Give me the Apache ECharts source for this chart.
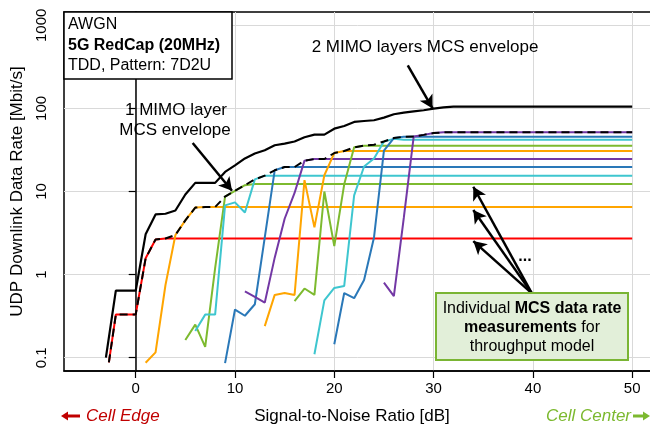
<!DOCTYPE html>
<html>
<head>
<meta charset="utf-8">
<script src="https://cdn.jsdelivr.net/npm/echarts@6/dist/echarts.min.js"></script>
<style>
html, body { margin: 0; padding: 0; background: #fff; }
#chart { width: 650px; height: 430px; }
</style>
</head>
<body>
<div id="chart"></div>
<script>
// axis ticks
const snrTicks = [0, 10, 20, 30, 40, 50];
const rateTicks = [0.1, 1, 10, 100, 1000];

// 2 MIMO layers envelope
const env2Snr = [-3, -2, -1, 0, 1, 2, 3, 4, 5, 6, 7, 8, 9, 10, 11, 12, 13, 14, 15, 16, 17, 18, 19, 20, 21, 22, 23, 24, 25, 26, 27, 28, 29, 30, 31, 32, 50];
const env2Rate = [0.1, 0.64, 0.64, 0.64, 3.05, 5.3, 5.4, 5.9, 9.2, 12.7, 12.7, 12.7, 17.2, 20.6, 25, 28.6, 31.4, 36, 37.7, 40, 45, 48.4, 48.4, 57, 61.4, 68.7, 70.5, 72, 77.5, 85, 89, 92, 95, 99.4, 103, 105, 105];

// 1 MIMO layer envelope
const env1Snr = [-2.7, -2, -1, 0, 1, 2, 3, 4, 5, 6, 7, 8, 9, 10, 11, 12, 13, 14, 15, 16, 17, 18, 19, 20, 21, 22, 23, 24, 25, 26, 27, 28, 29, 30, 31, 50];
const env1Rate = [0.088, 0.33, 0.33, 0.33, 1.57, 2.65, 2.72, 3.0, 4.5, 6.4, 6.5, 6.5, 8.7, 10.2, 11.9, 14.0, 15.5, 18, 19.7, 19.7, 23.5, 24.6, 24.6, 29, 30.7, 34, 35.6, 36.5, 40, 44, 45.6, 46, 48, 50.5, 51.5, 51.5];

// individual MCS measurements
const mcs1Snr = [-2.7, -2, -1, 0, 1, 2, 3, 50];
const mcs1Rate = [0.088, 0.33, 0.33, 0.33, 1.57, 2.65, 2.72, 2.72];
const mcs2Snr = [1, 2, 3, 4, 5, 6, 7, 50];
const mcs2Rate = [0.087, 0.116, 0.75, 3.0, 4.5, 6.4, 6.5, 6.5];
const mcs3Snr = [5, 6, 7, 8, 9, 10, 11, 12, 50];
const mcs3Rate = [0.163, 0.25, 0.135, 1.2, 8.7, 10.2, 11.9, 12.3, 12.3];
const mcs4Snr = [6, 7, 8, 9, 10, 11, 12, 13, 50];
const mcs4Rate = [0.21, 0.33, 0.33, 6.8, 7.4, 5.6, 14.0, 15.5, 15.5];
const mcs5Snr = [9, 10, 11, 12, 13, 14, 15, 50];
const mcs5Rate = [0.086, 0.38, 0.32, 0.44, 2.8, 18, 19.7, 19.7];
const mcs6Snr = [11, 12, 13, 14, 15, 16, 17, 18, 50];
const mcs6Rate = [0.63, 0.54, 0.46, 1.6, 4.7, 9.6, 23.5, 24.6, 24.6];
const mcs7Snr = [13, 14, 15, 16, 17, 18, 19, 20, 21, 50];
const mcs7Rate = [0.24, 0.57, 0.60, 0.57, 13.7, 3.7, 15.7, 29, 30.7, 30.7];
const mcs8Snr = [16, 17, 18, 19, 20, 21, 22, 23, 50];
const mcs8Rate = [0.48, 0.68, 0.57, 10, 2.2, 12.2, 34, 35.6, 35.6];
const mcs9Snr = [18, 19, 20, 21, 22, 23, 24, 25, 26, 27, 50];
const mcs9Rate = [0.11, 0.49, 0.69, 0.73, 9, 20, 25, 40, 43, 42, 42];
const mcs10Snr = [20, 21, 22, 23, 24, 25, 26, 27, 50];
const mcs10Rate = [0.145, 0.6, 0.52, 0.86, 2.8, 31, 44, 45.6, 45.6];
const mcs11Snr = [25, 26, 27, 28, 29, 30, 31, 50];
const mcs11Rate = [0.8, 0.55, 4.8, 46, 48, 50.5, 51.5, 51.5];

const RED = '#ff0000', ORANGE = '#ffa500', GREEN = '#7dba2f', CYAN = '#3ec6cf', BLUE = '#2a78b8', PURPLE = '#7338a5';

function zip(xs, ys) {
  return xs.map(function (x, i) { return [x, ys[i]]; });
}

function mcsLine(xs, ys, color) {
  return {
    type: 'line', data: zip(xs, ys), symbol: 'none', silent: true,
    lineStyle: { color: color, width: 2 }, itemStyle: { color: color }
  };
}

const FONT = '"Liberation Sans", Arial, sans-serif';
let chart = echarts.init(document.getElementById('chart'), null, { renderer: 'canvas' });

chart.setOption({
  animation: false,
  backgroundColor: '#fff',
  grid: { left: 64, right: -7, top: 12, bottom: 59, show: true, borderColor: '#000', borderWidth: 1.5, outerBoundsMode: 'none' },
  xAxis: {
    type: 'value', min: -7.22, max: 52.5,
    axisLine: { lineStyle: { color: '#000', width: 1.5 } },
    axisTick: { customValues: snrTicks, length: 7, lineStyle: { color: '#000', width: 1.2 } },
    axisLabel: { customValues: snrTicks, color: '#000', fontSize: 15, fontFamily: FONT, margin: 10 },
    splitLine: { show: true, lineStyle: { color: '#d9d9d9', width: 1 } }
  },
  yAxis: {
    type: 'log', min: 0.0692, max: 1445, logBase: 10,
    name: 'UDP Downlink Data Rate [Mbit/s]', nameLocation: 'middle', nameGap: 38,
    nameTextStyle: { color: '#000', fontSize: 17, fontFamily: FONT },
    axisLine: { lineStyle: { color: '#000', width: 1.5 } },
    axisTick: { customValues: rateTicks, length: 7, lineStyle: { color: '#000', width: 1.2 } },
    axisLabel: {
      customValues: rateTicks, rotate: 90, color: '#000', fontSize: 15, fontFamily: FONT, margin: 15,
      formatter: function (v) { return String(v); }
    },
    splitLine: { show: true, lineStyle: { color: '#d9d9d9', width: 1 } }
  },
  series: [
    mcsLine(mcs1Snr, mcs1Rate, RED),
    mcsLine(mcs2Snr, mcs2Rate, ORANGE),
    mcsLine(mcs3Snr, mcs3Rate, GREEN),
    mcsLine(mcs4Snr, mcs4Rate, CYAN),
    mcsLine(mcs5Snr, mcs5Rate, BLUE),
    mcsLine(mcs6Snr, mcs6Rate, PURPLE),
    mcsLine(mcs7Snr, mcs7Rate, ORANGE),
    mcsLine(mcs8Snr, mcs8Rate, GREEN),
    mcsLine(mcs9Snr, mcs9Rate, CYAN),
    mcsLine(mcs10Snr, mcs10Rate, BLUE),
    mcsLine(mcs11Snr, mcs11Rate, PURPLE),
    {
      type: 'line', data: zip(env1Snr, env1Rate), symbol: 'none', silent: true,
      lineStyle: { color: '#000', width: 2, type: [8, 5] }
    },
    {
      type: 'line', data: zip(env2Snr, env2Rate), symbol: 'none', silent: true,
      lineStyle: { color: '#000', width: 2.2 },
      markLine: {
        silent: true, symbol: ['none', 'arrow'], symbolSize: [11, 13],
        label: { show: false },
        lineStyle: { color: '#000', width: 2.5, type: 'solid' },
        data: [
          [{ coord: [27.4, 330] }, { coord: [29.9, 100] }],
          [{ coord: [5.74, 38.4] }, { coord: [9.7, 10.2] }],
          [{ coord: [39.9, 0.595] }, { coord: [34.0, 11.4] }],
          [{ coord: [39.9, 0.595] }, { coord: [34.0, 6.0] }],
          [{ coord: [39.9, 0.595] }, { coord: [34.0, 2.53] }]
        ]
      }
    }
  ],
  graphic: [
    { type: 'rect', shape: { x: 64, y: 12, width: 168, height: 67 }, style: { fill: '#fff', stroke: '#000', lineWidth: 1.5 }, z: 10 },
    { type: 'text', x: 68, y: 25, z: 11, style: { text: 'AWGN', font: '16px ' + FONT, fill: '#000', verticalAlign: 'middle', textVerticalAlign: 'middle' } },
    { type: 'text', x: 68, y: 46, z: 11, style: { text: '5G RedCap (20MHz)', font: 'bold 16px ' + FONT, fill: '#000', verticalAlign: 'middle', textVerticalAlign: 'middle' } },
    { type: 'text', x: 68, y: 65.5, z: 11, style: { text: 'TDD, Pattern: 7D2U', font: '16px ' + FONT, fill: '#000', verticalAlign: 'middle', textVerticalAlign: 'middle' } },

    { type: 'text', x: 425, y: 47, z: 11, style: { text: '2 MIMO layers MCS envelope', font: '17px ' + FONT, fill: '#000', align: 'center', textAlign: 'center', verticalAlign: 'middle', textVerticalAlign: 'middle' } },
    { type: 'text', x: 176, y: 110, z: 11, style: { text: '1 MIMO layer', font: '17px ' + FONT, fill: '#000', align: 'center', textAlign: 'center', verticalAlign: 'middle', textVerticalAlign: 'middle' } },
    { type: 'text', x: 175, y: 130.5, z: 11, style: { text: 'MCS envelope', font: '17px ' + FONT, fill: '#000', align: 'center', textAlign: 'center', verticalAlign: 'middle', textVerticalAlign: 'middle' } },
    { type: 'text', x: 525, y: 257, z: 11, style: { text: '...', font: 'bold 16px ' + FONT, fill: '#000', align: 'center', textAlign: 'center', verticalAlign: 'middle', textVerticalAlign: 'middle' } },

    { type: 'rect', shape: { x: 436, y: 293, width: 192, height: 67 }, style: { fill: '#e2efd9', stroke: '#7ab534', lineWidth: 2 }, z: 10 },
    { type: 'text', x: 532, y: 309, z: 11, style: { text: '{n|Individual }{b|MCS data rate}', rich: { n: { font: '16px ' + FONT, fill: '#000' }, b: { font: 'bold 16px ' + FONT, fill: '#000' } }, align: 'center', textAlign: 'center', verticalAlign: 'middle', textVerticalAlign: 'middle' } },
    { type: 'text', x: 532, y: 328, z: 11, style: { text: '{b|measurements}{n| for}', rich: { n: { font: '16px ' + FONT, fill: '#000' }, b: { font: 'bold 16px ' + FONT, fill: '#000' } }, align: 'center', textAlign: 'center', verticalAlign: 'middle', textVerticalAlign: 'middle' } },
    { type: 'text', x: 532, y: 347, z: 11, style: { text: 'throughput model', font: '16px ' + FONT, fill: '#000', align: 'center', textAlign: 'center', verticalAlign: 'middle', textVerticalAlign: 'middle' } },

    { type: 'text', x: 352, y: 416, z: 11, style: { text: 'Signal-to-Noise Ratio [dB]', font: '17px ' + FONT, fill: '#000', align: 'center', textAlign: 'center', verticalAlign: 'middle', textVerticalAlign: 'middle' } },
    { type: 'rect', shape: { x: 67, y: 414.5, width: 13, height: 3 }, style: { fill: '#c00000' }, z: 11 },
    { type: 'polygon', shape: { points: [[61, 416], [68, 411.5], [68, 420.5]] }, style: { fill: '#c00000' }, z: 11 },
    { type: 'text', x: 86, y: 416, z: 11, style: { text: 'Cell Edge', font: 'italic 17px ' + FONT, fill: '#c00000', verticalAlign: 'middle', textVerticalAlign: 'middle' } },
    { type: 'text', x: 631, y: 416, z: 11, style: { text: 'Cell Center', font: 'italic 17px ' + FONT, fill: '#7cb92f', align: 'right', textAlign: 'right', verticalAlign: 'middle', textVerticalAlign: 'middle' } },
    { type: 'rect', shape: { x: 633, y: 414.5, width: 10, height: 3 }, style: { fill: '#7cb92f' }, z: 11 },
    { type: 'polygon', shape: { points: [[650, 416], [643, 411.5], [643, 420.5]] }, style: { fill: '#7cb92f' }, z: 11 }
  ]
});
</script>
</body>
</html>
